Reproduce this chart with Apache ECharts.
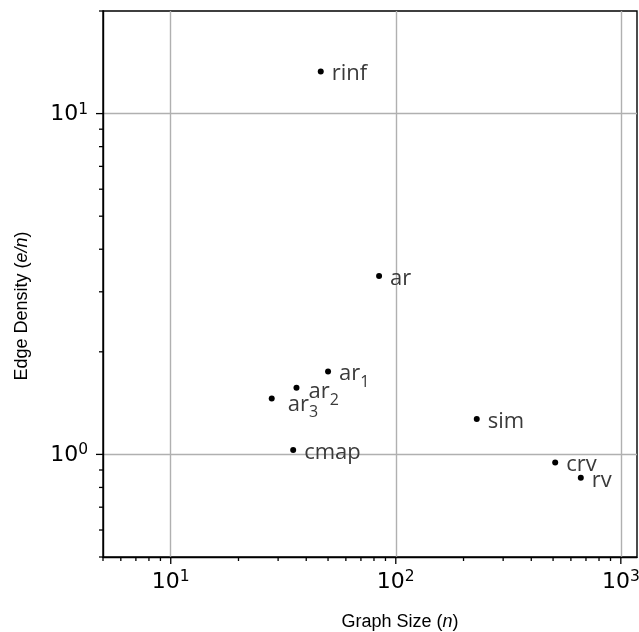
<!DOCTYPE html>
<html><head><meta charset="utf-8">
<script src="https://cdn.jsdelivr.net/npm/echarts@6/dist/echarts.min.js"></script>
<style>html,body{margin:0;padding:0;background:#fff}#c{width:639px;height:632px}</style>
</head><body><div id="c"></div>
<script>
// ---- data ----
const labels = ['rinf', 'ar', 'ar_1', 'ar_2', 'ar_3', 'cmap', 'sim', 'crv', 'rv'];
const graphSize = [46.4, 84.3, 50.0, 36.2, 28.1, 35.0, 229, 511, 664];
const edgeDensity = [13.3, 3.34, 1.75, 1.57, 1.46, 1.03, 1.27, 0.946, 0.854];
const xRange = [5, 1180];
const yRange = [0.5, 20];
const xMajorTicks = [10, 100, 1000];
const xMinorTicks = [5, 6, 7, 8, 9, 20, 30, 40, 50, 60, 70, 80, 90, 200, 300, 400, 500, 600, 700, 800, 900];
const yMajorTicks = [1, 10];
const yMinorTicks = [0.5, 0.6, 0.7, 0.8, 0.9, 2, 3, 4, 5, 6, 7, 8, 9, 20];

// ---- styles ----
const labelShift = { ar_2: [1, 2], ar_3: [5, 4] };
const baseOffset = [1, 5.5];
const labelColor = '#3a3a3a';

function tickSeries(axis, values, len) {
  return {
    type: 'custom', silent: true, clip: false, z: 5,
    data: values.map(v => axis === 'x' ? [v, yRange[0]] : [xRange[0], v]),
    renderItem: (params, api) => {
      const p = api.coord([api.value(0), api.value(1)]);
      const shape = axis === 'x'
        ? { x1: p[0], y1: p[1], x2: p[0], y2: p[1] + len }
        : { x1: p[0], y1: p[1], x2: p[0] - len, y2: p[1] };
      return { type: 'line', shape, style: { stroke: '#000', lineWidth: 1.3 } };
    }
  };
}

const tickRich = {
  b: { fontFamily: 'DejaVu Sans', fontSize: 22, color: '#000', lineHeight: 24, verticalAlign: 'bottom' },
  s: { fontFamily: 'DejaVu Sans', fontSize: 15.5, color: '#000', lineHeight: 15, verticalAlign: 'top' }
};
const tickFmt = v => '{b|10}{s|' + Math.round(Math.log10(v)) + '}';

const chart = echarts.init(document.getElementById('c'), null, { renderer: 'canvas' });
chart.setOption({
  animation: false,
  backgroundColor: '#fff',
  grid: {
    left: 103, top: 11, width: 534, height: 546, show: true,
    borderColor: '#000', borderWidth: 1.4, containLabel: false, outerBoundsMode: 'none'
  },
  xAxis: {
    type: 'log', logBase: 10, min: xRange[0], max: xRange[1],
    axisLine: { show: true, lineStyle: { color: '#000', width: 1.4 } },
    axisTick: { show: false },
    splitLine: { show: true, showMinLine: false, showMaxLine: false, lineStyle: { color: '#b0b0b0', width: 1.4 } },
    axisLabel: { interval: 0, showMinLabel: false, showMaxLabel: false, margin: 12, formatter: tickFmt, rich: tickRich, hideOverlap: false }
  },
  yAxis: {
    type: 'log', logBase: 10, min: yRange[0], max: yRange[1],
    axisLine: { show: true, lineStyle: { color: '#000', width: 1.4 } },
    axisTick: { show: false },
    splitLine: { show: true, showMinLine: false, showMaxLine: false, lineStyle: { color: '#b0b0b0', width: 1.4 } },
    axisLabel: { interval: 0, showMinLabel: false, showMaxLabel: false, margin: 15, formatter: tickFmt, rich: tickRich }
  },
  graphic: [
    {
      type: 'text', x: 400, y: 622,
      style: {
        text: '{r|Graph Size (}{i|n}{r|)}',
        align: 'center', verticalAlign: 'middle', textAlign: 'center', textVerticalAlign: 'middle',
        rich: {
          r: { fontFamily: 'Liberation Sans', fontSize: 18, fill: '#000', color: '#000' },
          i: { fontFamily: 'Liberation Sans', fontSize: 18, fontStyle: 'italic', fill: '#000', color: '#000' }
        }
      }
    },
    {
      type: 'text', x: 22, y: 306, rotation: Math.PI / 2,
      style: {
        text: '{r|Edge Density (}{i|e/n}{r|)}',
        align: 'center', verticalAlign: 'middle', textAlign: 'center', textVerticalAlign: 'middle',
        rich: {
          r: { fontFamily: 'Liberation Sans', fontSize: 18, fill: '#000', color: '#000' },
          i: { fontFamily: 'Liberation Sans', fontSize: 18, fontStyle: 'italic', fill: '#000', color: '#000' }
        }
      }
    }
  ],
  series: [
    {
      type: 'scatter', symbol: 'circle', symbolSize: 6, z: 10,
      itemStyle: { color: '#000', opacity: 1 },
      data: graphSize.map((x, i) => {
        const sh = labelShift[labels[i]] || [0, 0];
        return {
          value: [x, edgeDensity[i]], name: labels[i],
          label: { offset: [baseOffset[0] + sh[0], baseOffset[1] + sh[1]] }
        };
      }),
      label: {
        show: true, position: 'right', distance: 7,
        formatter: p => {
          const parts = p.name.split('_');
          return parts[1] ? '{m|' + parts[0] + '}{s|' + parts[1] + '}' : '{m|' + parts[0] + '}';
        },
        rich: {
          m: { fontFamily: 'Open Sans', fontSize: 22, color: labelColor, lineHeight: 28, verticalAlign: 'top' },
          s: { fontFamily: 'Open Sans', fontSize: 16, color: labelColor, lineHeight: 16, padding: [11, 0, 0, 0], verticalAlign: 'top' }
        }
      },
      emphasis: { disabled: true }
    },
    tickSeries('x', xMajorTicks, 7),
    tickSeries('x', xMinorTicks, 4),
    tickSeries('y', yMajorTicks, 7),
    tickSeries('y', yMinorTicks, 4)
  ]
});
</script>
</body></html>
